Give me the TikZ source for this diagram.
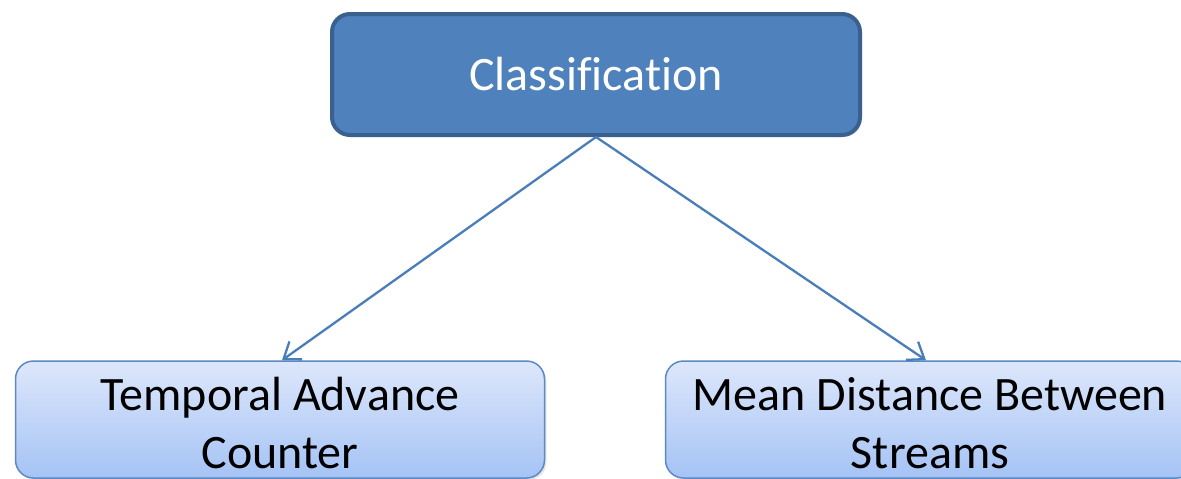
\documentclass[tikz,border=0pt]{standalone}
\usepackage{fontspec}
\setmainfont{Carlito}[Ligatures=NoCommon]
\usetikzlibrary{arrows.meta,shadows}
\definecolor{headfill}{HTML}{4F81BD}
\definecolor{headline}{HTML}{3A6090}
\definecolor{leaftop}{HTML}{DDE7FB}
\definecolor{leafbot}{HTML}{A5C3F5}
\definecolor{leafline}{HTML}{5B8AC6}
\definecolor{linkcol}{HTML}{4A7EBB}
\tikzset{
  headbox/.style={draw=headline, line width=4pt, fill=headfill, rounded corners=18pt,
    minimum width=528pt, minimum height=121pt, text=white, inner sep=0pt,
    font=\fontsize{48pt}{58pt}\selectfont,
    drop shadow={opacity=0.2, shadow xshift=2pt, shadow yshift=-2pt}},
  leafbox/.style={draw=leafline, line width=1.5pt, top color=leaftop, bottom color=leafbot,
    rounded corners=18pt, minimum width=529pt, minimum height=117pt, inner sep=0pt,
    drop shadow={opacity=0.2, shadow xshift=2pt, shadow yshift=-2pt}},
  leaftext/.style={align=center, inner sep=0pt, font=\fontsize{48pt}{58pt}\selectfont},
  link/.style={draw=linkcol, line width=2.3pt,
    -{Straight Barb[length=15pt,width=22pt,line width=2.3pt]}}
}
\begin{document}
\begin{tikzpicture}[x=1pt,y=-1pt]
  \clip (0,0) rectangle (1181,479);
  \node[headbox] (cls) at (596,74.5) {Classification};
  \node[leafbox] (tac) at (280,419.5) {};
  \node[leafbox] (mdb) at (930,419.5) {};
  \node[leaftext] (tacText) at ([yshift=-4pt]tac.center) {Temporal Advance\\Counter};
  \node[leaftext] (mdbText) at ([yshift=-4pt]mdb.center) {Mean Distance Between\\Streams};
  \draw[link] (cls.south) -- ([xshift=2pt]tac.north);
  \draw[link] (cls.south) -- ([xshift=-4pt]mdb.north);
\end{tikzpicture}
\end{document}
